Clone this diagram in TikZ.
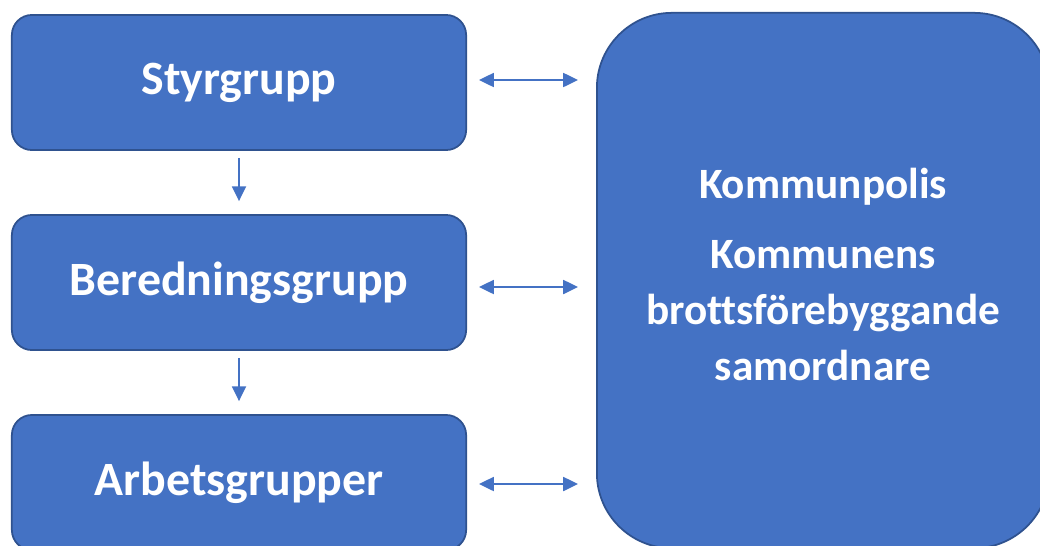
\documentclass[tikz,border=0pt]{standalone}
\usepackage{fontspec}
\setmainfont{Carlito}[RawFeature=-liga]
\usetikzlibrary{arrows.meta,positioning}
\definecolor{boxblue}{HTML}{4472C4}
\definecolor{boxedge}{HTML}{2F528F}
\begin{document}
\begin{tikzpicture}[x=0.01cm,y=-0.01cm]
    \tikzset{GroupStyle/.style = {%
        shape= rectangle,
        rounded corners= 0.2cm,
        fill= boxblue, draw= boxedge, line width= 0.5pt,%
        minimum width= 4.54cm, minimum height= 1.35cm,
        text= white, font= \bfseries\fontsize{13.6}{16}\selectfont},
      LinkStyle/.style = {boxblue, line width= 0.45pt},
      TwoWay/.style = {LinkStyle,
        {Triangle[length=4.2pt,width=4pt]}-{Triangle[length=4.2pt,width=4pt]}},
      OneWay/.style = {LinkStyle, -{Triangle[length=4.2pt,width=4pt]}}}
    \useasboundingbox (0,0) rectangle (1040,545);
    \clip (0,0) rectangle (1040,545);
    \node[GroupStyle] (styr) at (239,82.5) {Styrgrupp};
    \node[GroupStyle] (bered) at (239,282.5) {Beredningsgrupp};
    \node[GroupStyle] (arbet) at (239,482.5) {Arbetsgrupper};
    \node[GroupStyle, rounded corners= 0.75cm,
      minimum width= 4.52cm, minimum height= 5.35cm] (kp) at (823,280.5) {};
    \node[text= white, align= center, font= \bfseries\fontsize{12.3}{15.9}\selectfont]
      (kptext) at ([yshift=0.06cm]kp.center)
      {Kommunpolis\\[4pt]Kommunens\\brottsförebyggande\\samordnare};
    % down the chain
    \draw[OneWay, shorten <= 0.07cm, shorten >= 0.13cm] (styr) -- (bered);
    \draw[OneWay, shorten <= 0.07cm, shorten >= 0.13cm] (bered) -- (arbet);
    % to the right box
    \draw[TwoWay, shorten <= 0.12cm, shorten >= 0.18cm]
      ([yshift=0.025cm]styr.east) -- ([yshift=0.025cm]styr.east -| kp.west);
    \draw[TwoWay, shorten <= 0.12cm, shorten >= 0.18cm]
      ([yshift=-0.045cm]bered.east) -- ([yshift=-0.045cm]bered.east -| kp.west);
    \draw[TwoWay, shorten <= 0.12cm, shorten >= 0.18cm]
      ([yshift=-0.015cm]arbet.east) -- ([yshift=-0.015cm]arbet.east -| kp.west);
  \end{tikzpicture}
\end{document}
